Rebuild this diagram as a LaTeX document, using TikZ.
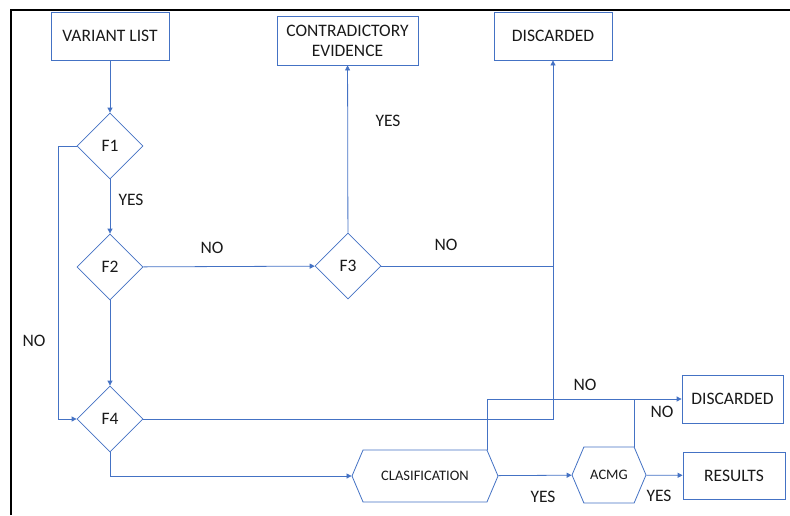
\documentclass[tikz,border=0pt]{standalone}
\usepackage{fontspec}
\setmainfont{Carlito}
\usepackage{tikz}
\usepackage{xcolor}
\usetikzlibrary{arrows.meta,positioning,shapes.geometric,shapes.symbols}
\definecolor{flowblue}{HTML}{4472C4}
\definecolor{ink}{HTML}{1A1A1A}
\tikzset{
  box/.style={draw=flowblue,fill=white,line width=0.8pt,align=center,
              inner sep=2pt,font=\fontsize{17.5}{20}\selectfont,text=ink},
  dia/.style={draw=flowblue,fill=white,line width=0.8pt,diamond,aspect=1,
              inner sep=0pt,minimum size=66pt,font=\fontsize{17.5}{20}\selectfont,
              text=ink},
  hexa/.style={draw=flowblue,fill=white,line width=0.8pt,signal,
               signal to=east and west,signal pointer angle=134,
               inner sep=0pt,font=\fontsize{14.5}{16}\selectfont,text=ink},
  lbl/.style={font=\fontsize{17.5}{20}\selectfont,text=ink,inner sep=0pt},
  arr/.style={-{Triangle[length=5pt,width=5pt]},line width=0.8pt,
              draw=flowblue},
  wire/.style={line width=0.8pt,draw=flowblue}
}
\begin{document}
\begin{tikzpicture}[x=1pt,y=-1pt]
    \path[use as bounding box] (0,0) rectangle (790,515);
    \draw[black,line width=1.6pt] (11,515) -- (11,10) -- (790,10);

    \node[box,minimum width=118pt,minimum height=48pt] (vlist) at (110,36)
      {VARIANT LIST};
    \node[box,minimum width=141pt,minimum height=49pt] (contra) at (347.5,40.5)
      {CONTRADICTORY\\EVIDENCE};
    \node[box,minimum width=118pt,minimum height=48pt] (disc1) at (553,36)
      {DISCARDED};
    \node[dia] (f1) at (110,146) {F1};
    \node[dia] (f2) at (110,267) {F2};
    \node[dia] (f3) at (348,266) {F3};
    \node[dia] (f4) at (110,419) {F4};
    \node[hexa,minimum width=146pt,minimum height=52pt] (clasif) at (425,476)
      {CLASIFICATION};
    \node[hexa,minimum width=74pt,minimum height=56pt] (acmg) at (609,475)
      {ACMG};
    \node[box,minimum width=101pt,minimum height=48pt] (disc2) at (732.5,399)
      {DISCARDED};
    \node[box,minimum width=102pt,minimum height=47pt] (results) at (734,475.5)
      {RESULTS};

    \draw[arr] (vlist) -- (f1);
    \draw[arr] (f1) -- (f2);
    \draw[arr] (f2) -- (f4);
    \draw[arr] (f1.west) -- ++(-18,0) |- (f4.west);
    \draw[arr] (f2) -- (f3);
    \draw[arr] (f3) -- (contra);
    \draw[wire] (f3.east) -- (f3.east -| disc1.south);
    \draw[arr] (f4.east) -| (disc1.south);
    \draw[arr] (f4.south) |- (clasif.west);
    \draw[arr] (clasif) -- (acmg);
    \draw[arr] (acmg) -- (results);
    \draw[arr] (clasif.north east) |- (disc2.west);
    \draw[wire] (acmg.north east) -- (acmg.north east |- disc2.west);

    \node[lbl] (nof1) at (34,341) {NO};
    \node[lbl] (yesf1) at (131,200) {YES};
    \node[lbl] (nof2) at (212,248) {NO};
    \node[lbl] (yesf3) at (388,121) {YES};
    \node[lbl] (nof3) at (446,245) {NO};
    \node[lbl] (nocl) at (585,385) {NO};
    \node[lbl] (noac) at (662,412) {NO};
    \node[lbl] (yescl) at (543,497) {YES};
    \node[lbl] (yesac) at (659,496) {YES};
\end{tikzpicture}
\end{document}
